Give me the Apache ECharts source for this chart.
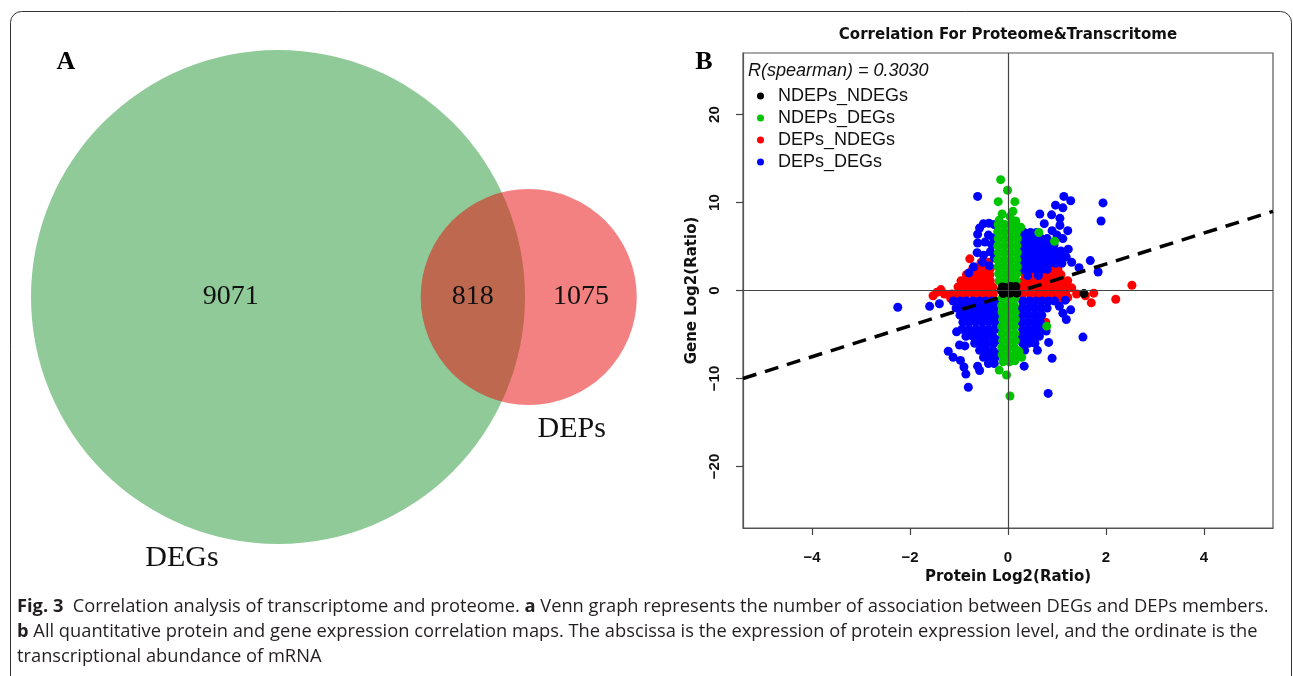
<!DOCTYPE html>
<html>
<head>
<meta charset="utf-8">
<script src="https://cdn.jsdelivr.net/npm/echarts@6/dist/echarts.min.js"></script>
<style>
html, body { margin: 0; padding: 0; background: #fff; }
#chart { width: 1293px; height: 676px; }
</style>
</head>
<body>
<div id="chart"></div>
<script>
// panel A: venn counts
const vennNames = ['DEGs', 'DEPs'];
const vennOnly = [9071, 1075];
const vennBoth = 818;

// panel B: scatter
const xTicks = [-4, -2, 0, 2, 4];
const yTicks = [-20, -10, 0, 10, 20];
const xLim = [-5.41, 5.41];
const yLim = [-27, 27];
const spearman = '0.3030';
const fitSlope = 1.756;
const fitIntercept = -0.5;

const blackPts = [[-0.14,0.05],[-0.06,0.35],[0.04,-0.3],[0.14,0.2],[0.0,-0.05],[0.1,-0.15],[-0.1,-0.35],
  [0.18,-0.3],[-0.12,0.4],[0.06,0.45],[-0.02,0.2],[0.16,0.45],[1.55,-0.35]];

const greenPts = [[-0.15,12.6],[-0.01,11.4],[-0.2,10.1],[0.14,10.1],[0.1,9.0],[-0.12,8.7],[0.04,8.4],[-0.18,8.0],[0.16,7.9],
  [-0.2,7.5],[-0.07,7.5],[0.06,7.5],[0.17,7.4],
  [-0.21,6.7],[-0.08,6.7],[0.05,6.7],[0.18,6.7],
  [-0.2,5.9],[-0.07,5.9],[0.06,5.9],[0.19,5.9],
  [-0.21,5.1],[-0.08,5.1],[0.05,5.1],[0.18,5.1],
  [-0.2,4.3],[-0.07,4.3],[0.06,4.3],[0.19,4.3],
  [-0.21,3.5],[-0.08,3.5],[0.05,3.5],[0.18,3.5],
  [-0.2,2.7],[-0.07,2.7],[0.06,2.7],[0.19,2.7],
  [-0.19,1.9],[-0.06,1.9],[0.06,1.9],[0.18,1.9],
  [-0.18,1.1],[-0.06,1.1],[0.06,1.1],[0.17,1.1],
  [0.63,6.6],[0.95,5.6],[0.26,7.2],
  [-0.12,-0.9],[0.01,-0.9],[0.14,-0.9],
  [-0.13,-1.7],[0.0,-1.7],[0.13,-1.7],
  [-0.12,-2.5],[0.01,-2.5],[0.14,-2.5],
  [-0.11,-3.3],[0.02,-3.3],[0.15,-3.3],
  [-0.13,-4.1],[0.0,-4.1],[0.13,-4.1],
  [-0.12,-4.9],[0.01,-4.9],[0.14,-4.9],
  [-0.11,-5.7],[0.02,-5.7],[0.15,-5.7],
  [-0.13,-6.5],[0.0,-6.5],[0.13,-6.5],
  [-0.12,-7.3],[0.01,-7.3],[0.14,-7.3],
  [-0.1,-8.1],[0.03,-8.1],[0.14,-8.0],
  [-0.18,-9.05],[-0.03,-9.6],[0.04,-12.0],[0.79,-4.05],[0.28,-7.6],[0.22,-6.9]];

const redPts = [[-1.53,-0.6],[-1.37,0.1],[-1.17,-0.9],[-1.45,-0.2],
  [1.58,-0.6],[1.7,-1.4],[1.75,-0.3],[2.2,-1.0],[2.53,0.6],[1.3,0.3],[1.4,-0.4],[1.22,-0.8],
  [-0.78,3.6],[0.77,-3.6],[0.55,-3.9],
  [-1.02,0.4],[-0.9,0.4],[-0.78,0.4],[-0.66,0.4],[-0.54,0.4],[-0.42,0.4],[-0.31,0.4],
  [-0.96,1.1],[-0.84,1.1],[-0.72,1.1],[-0.6,1.1],[-0.48,1.1],[-0.36,1.1],
  [-0.85,1.8],[-0.73,1.8],[-0.61,1.8],[-0.49,1.8],[-0.37,1.8],
  [-0.72,2.5],[-0.6,2.5],[-0.48,2.5],[-0.36,2.5],
  [-0.55,3.2],[-0.4,3.2],
  [0.3,0.4],[0.43,0.4],[0.56,0.4],[0.69,0.4],[0.82,0.4],[0.95,0.4],[1.08,0.4],[1.2,0.4],
  [0.32,1.1],[0.45,1.1],[0.58,1.1],[0.71,1.1],[0.84,1.1],[0.97,1.1],[1.1,1.1],[1.22,1.1],
  [0.35,1.8],[0.5,1.8],[0.65,1.8],[0.8,1.8],[0.95,1.8],[1.08,1.8],
  [0.9,2.4],[1.02,2.4],
  [-1.3,-0.4],[-1.15,-0.4],[-1.0,-0.4],[-0.85,-0.4],[-0.7,-0.4],[-0.55,-0.4],[-0.42,-0.4],[-0.3,-0.4],
  [0.3,-0.4],[0.45,-0.4],[0.6,-0.4],[0.75,-0.4],[0.9,-0.4],[1.05,-0.4],[1.18,-0.4],
  [-1.05,-0.9],[-0.9,-0.9],[1.0,-0.9],[1.12,-0.9]];

const bluePts = [[0.33,6.6],[0.46,6.6],[0.58,6.6],
  [0.3,5.9],[0.42,5.9],[0.55,5.9],[0.68,5.9],[0.8,5.9],
  [0.29,5.2],[0.42,5.2],[0.55,5.2],[0.68,5.2],[0.81,5.2],[0.94,5.2],
  [0.31,4.5],[0.44,4.5],[0.57,4.5],[0.7,4.5],[0.83,4.5],[0.96,4.5],[1.08,4.5],
  [0.3,3.8],[0.43,3.8],[0.56,3.8],[0.69,3.8],[0.82,3.8],[0.95,3.8],[1.08,3.8],[1.19,3.8],
  [0.32,3.1],[0.45,3.1],[0.58,3.1],[0.71,3.1],[0.84,3.1],[0.97,3.1],[1.1,3.1],
  [0.3,2.4],[0.43,2.4],[0.56,2.4],[0.69,2.4],[0.8,2.4],
  [0.4,1.7],[0.62,1.7],
  [1.14,10.7],[1.28,10.2],[0.97,9.7],[1.12,9.4],[0.65,8.7],[0.89,8.6],[1.06,8.2],[0.74,7.6],[1.06,7.4],
  [1.22,6.8],[1.12,5.9],[1.23,4.7],[1.68,3.4],[1.84,2.1],[1.94,9.96],[1.9,7.9],[0.9,6.8],[1.0,6.3],[1.45,2.6],[1.3,3.2],
  [-0.62,10.7],[-0.5,7.6],[-0.39,7.65],[-0.28,7.5],[-0.58,7.1],[-0.62,5.4],[-0.47,5.5],[-0.33,5.2],
  [-0.63,4.3],[-0.5,4.0],[-0.36,4.4],[-0.28,3.7],[-0.7,2.7],[-0.8,2.0],[-0.52,3.2],[-0.38,2.8],
  [-0.62,6.4],[-0.4,6.3],[-0.3,6.0],
  [-1.12,-1.2],[-0.98,-1.2],[-0.85,-1.2],[-0.72,-1.2],[-0.59,-1.2],[-0.46,-1.2],[-0.33,-1.2],[-0.22,-1.3],
  [-1.06,-2.0],[-0.93,-2.0],[-0.8,-2.0],[-0.67,-2.0],[-0.54,-2.0],[-0.41,-2.0],[-0.28,-2.0],
  [-0.98,-2.8],[-0.85,-2.8],[-0.72,-2.8],[-0.59,-2.8],[-0.46,-2.8],[-0.34,-2.8],[-0.23,-2.8],
  [-0.92,-3.6],[-0.79,-3.6],[-0.66,-3.6],[-0.53,-3.6],[-0.4,-3.6],[-0.27,-3.6],
  [-0.94,-4.4],[-0.8,-4.4],[-0.66,-4.4],[-0.52,-4.4],[-0.39,-4.4],[-0.26,-4.4],
  [-0.86,-5.2],[-0.72,-5.2],[-0.58,-5.2],[-0.45,-5.2],[-0.31,-5.2],[-0.22,-5.6],
  [-0.68,-6.0],[-0.55,-6.0],[-0.42,-6.0],[-0.29,-6.0],
  [-0.58,-6.8],[-0.45,-6.8],[-0.31,-6.8],[-0.22,-7.2],
  [-0.5,-7.6],[-0.37,-7.6],[-0.26,-7.6],
  [-0.4,-8.3],[-0.28,-8.3],
  [-2.25,-1.9],[-1.6,-1.8],[-1.4,-1.5],[-1.22,-6.9],[-1.12,-7.6],[-0.99,-6.2],[-0.97,-7.95],[-0.9,-8.7],
  [-0.86,-9.5],[-0.81,-11.0],[-0.62,-8.6],[-0.58,-9.1],[-0.88,-6.3],[-1.05,-4.7],
  [0.3,-1.2],[0.43,-1.2],[0.56,-1.2],[0.69,-1.2],[0.82,-1.2],[0.95,-1.2],
  [0.28,-2.0],[0.41,-2.0],[0.54,-2.0],[0.67,-2.0],[0.8,-2.0],
  [0.3,-2.8],[0.43,-2.8],[0.56,-2.8],[0.69,-2.8],
  [0.28,-3.6],[0.41,-3.6],[0.54,-3.6],[0.66,-3.6],
  [0.3,-4.4],[0.43,-4.4],[0.56,-4.4],[0.68,-4.4],
  [0.28,-5.2],[0.4,-5.2],[0.52,-5.2],[0.64,-5.2],
  [0.3,-6.0],[0.42,-6.0],[0.55,-6.0],
  [0.34,-6.8],[0.6,-6.8],
  [1.17,-1.1],[1.28,-2.2],[1.12,-2.6],[1.19,-3.3],[1.53,-5.3],[0.83,-5.9],[0.9,-7.7],[0.33,-8.6],
  [0.82,-11.7],[0.78,-4.6],[1.05,-1.8]];

const legendNames = ['NDEPs_NDEGs', 'NDEPs_DEGs', 'DEPs_NDEGs', 'DEPs_DEGs'];

// area-proportional venn: radius from set size, distance from overlap area
const tot1 = vennOnly[0] + vennBoth;
const tot2 = vennOnly[1] + vennBoth;
const r1 = Math.sqrt(tot1 / Math.PI);
const r2 = Math.sqrt(tot2 / Math.PI);
function lensArea(d) {
  const a = r1 * r1 * Math.acos((d * d + r1 * r1 - r2 * r2) / (2 * d * r1));
  const b = r2 * r2 * Math.acos((d * d + r2 * r2 - r1 * r1) / (2 * d * r2));
  const c = 0.5 * Math.sqrt((-d + r1 + r2) * (d + r1 - r2) * (d - r1 + r2) * (d + r1 + r2));
  return a + b - c;
}
let lo = r1 - r2 + 1e-6, hi = r1 + r2 - 1e-6;
for (let i = 0; i < 80; i++) {
  const mid = (lo + hi) / 2;
  if (lensArea(mid) > vennBoth) lo = mid; else hi = mid;
}
const dist = (lo + hi) / 2;

const serif = '"Liberation Serif", "DejaVu Serif", serif';
const sans = '"Liberation Sans", Arial, sans-serif';
const wide = '"DejaVu Sans", "Liberation Sans", sans-serif';
const capFont = '"Open Sans", "Noto Sans", sans-serif';
const capSize = 18.3;

function vennText(x, y, t, size) {
  return {
    type: 'text', x: x, y: y,
    style: { text: t, fontSize: size, fontFamily: serif, fill: '#111', align: 'center', verticalAlign: 'middle' }
  };
}

function renderVenn(params, api) {
  const c1 = api.coord([0, 0]);
  const c2 = api.coord([dist, 0]);
  const s = api.size([1, 0])[0];
  const R1 = r1 * s, R2 = r2 * s;
  return {
    type: 'group',
    children: [
      { type: 'circle', shape: { cx: c1[0], cy: c1[1], r: R1 }, style: { fill: '#8fca98' } },
      { type: 'circle', shape: { cx: c2[0], cy: c2[1], r: R2 }, style: { fill: 'rgba(234,14,14,0.52)' } },
      vennText((c1[0] - R1 + c2[0] - R2) / 2 + 5, c1[1], String(vennOnly[0]), 28),
      vennText((c2[0] - R2 + c1[0] + R1) / 2, c1[1], String(vennBoth), 28),
      vennText((c1[0] + R1 + c2[0] + R2) / 2, c1[1], String(vennOnly[1]), 28),
      vennText(c1[0] - 96, c1[1] + 261, vennNames[0], 30),
      vennText(c2[0] + 43, c2[1] + 132, vennNames[1], 30)
    ]
  };
}

const minus = v => String(v).replace('-', '\u2212');

const myChart = echarts.init(document.getElementById('chart'));
const vennW = 620, vennH = 494;

const option = {
  animation: false,
  backgroundColor: '#fff',
  grid: [
    { left: 31, top: 50, width: vennW, height: vennH, show: false },
    { left: 743, top: 53, width: 530, height: 475, show: true, borderColor: '#555', borderWidth: 1.2, backgroundColor: 'transparent' }
  ],
  xAxis: [
    { gridIndex: 0, type: 'value', show: false, min: -r1, max: -r1 + 2 * r1 * vennW / vennH },
    {
      gridIndex: 1, type: 'value', min: xLim[0], max: xLim[1], position: 'bottom',
      axisLine: { show: true, onZero: false, lineStyle: { color: '#555', width: 1.2 } },
      axisTick: { show: true, length: 7, customValues: xTicks, lineStyle: { color: '#444', width: 1.2 } },
      axisLabel: { customValues: xTicks, formatter: minus, margin: 22, color: '#111', fontFamily: sans, fontWeight: 'bold', fontSize: 15 },
      splitLine: { show: false },
      name: 'Protein Log2(Ratio)', nameLocation: 'middle', nameGap: 40,
      nameTextStyle: { color: '#111', fontFamily: wide, fontWeight: 'bold', fontSize: 15 }
    }
  ],
  yAxis: [
    { gridIndex: 0, type: 'value', show: false, min: -r1, max: r1 },
    {
      gridIndex: 1, type: 'value', min: yLim[0], max: yLim[1], position: 'left',
      axisLine: { show: true, onZero: false, lineStyle: { color: '#555', width: 1.2 } },
      axisTick: { show: true, length: 7, customValues: yTicks, lineStyle: { color: '#444', width: 1.2 } },
      axisLabel: { customValues: yTicks, formatter: minus, rotate: 90, margin: 21, color: '#111', fontFamily: sans, fontWeight: 'bold', fontSize: 15 },
      splitLine: { show: false },
      name: 'Gene Log2(Ratio)', nameLocation: 'middle', nameGap: 43,
      nameTextStyle: { color: '#111', fontFamily: wide, fontWeight: 'bold', fontSize: 15 }
    }
  ],
  legend: {
    data: legendNames, orient: 'vertical', left: 757, top: 85, padding: 0,
    icon: 'circle', itemWidth: 7, itemHeight: 7, itemGap: 0, selectedMode: false,
    textStyle: { color: '#111', fontFamily: sans, fontSize: 18, lineHeight: 22, padding: [0, 0, 0, 9] }
  },
  graphic: [
    { type: 'rect', shape: { x: 10.5, y: 11.5, width: 1281, height: 720, r: 11 }, style: { fill: 'none', stroke: '#333', lineWidth: 1 }, silent: true },
    { type: 'text', x: 66, y: 62, style: { text: 'A', fontSize: 26, fontWeight: 'bold', fontFamily: serif, fill: '#000', align: 'center', verticalAlign: 'middle' } },
    { type: 'text', x: 704, y: 62, style: { text: 'B', fontSize: 26, fontWeight: 'bold', fontFamily: serif, fill: '#000', align: 'center', verticalAlign: 'middle' } },
    { type: 'text', x: 1008, y: 35, style: { text: 'Correlation For Proteome&Transcritome', fontSize: 15, fontWeight: 'bold', fontFamily: wide, fill: '#111', align: 'center', verticalAlign: 'middle' } },
    { type: 'text', x: 748, y: 71, style: { text: 'R(spearman) = ' + spearman, fontSize: 18, fontStyle: 'italic', fontFamily: sans, fill: '#111', align: 'left', verticalAlign: 'middle' } },
    {
      type: 'text', x: 17, y: 607,
      style: {
        text: '{b|Fig. 3}  Correlation analysis of transcriptome and proteome. {b|a} Venn graph represents the number of association between DEGs and DEPs members.',
        fontSize: capSize, fontFamily: capFont, fill: '#231f20', verticalAlign: 'middle',
        rich: { b: { fontWeight: 'bold', fontSize: capSize, fontFamily: capFont, fill: '#231f20' } }
      }
    },
    {
      type: 'text', x: 17, y: 632,
      style: {
        text: '{b|b} All quantitative protein and gene expression correlation maps. The abscissa is the expression of protein expression level, and the ordinate is the',
        fontSize: capSize, fontFamily: capFont, fill: '#231f20', verticalAlign: 'middle',
        rich: { b: { fontWeight: 'bold', fontSize: capSize, fontFamily: capFont, fill: '#231f20' } }
      }
    },
    {
      type: 'text', x: 17, y: 657,
      style: { text: 'transcriptional abundance of mRNA', fontSize: capSize, fontFamily: capFont, fill: '#231f20', verticalAlign: 'middle' }
    }
  ],
  series: [
    { type: 'custom', xAxisIndex: 0, yAxisIndex: 0, renderItem: renderVenn, data: [[0, 0]], clip: false, silent: true, z: 1 },
    { name: 'DEPs_NDEGs', type: 'scatter', xAxisIndex: 1, yAxisIndex: 1, symbolSize: 9, itemStyle: { color: '#ff0000', opacity: 1 }, data: redPts, z: 2 },
    { name: 'DEPs_DEGs', type: 'scatter', xAxisIndex: 1, yAxisIndex: 1, symbolSize: 9, itemStyle: { color: '#0000ff', opacity: 1 }, data: bluePts, z: 2 },
    { name: 'NDEPs_DEGs', type: 'scatter', xAxisIndex: 1, yAxisIndex: 1, symbolSize: 9, itemStyle: { color: '#00c400', opacity: 1 }, data: greenPts, z: 2 },
    { name: 'NDEPs_NDEGs', type: 'scatter', xAxisIndex: 1, yAxisIndex: 1, symbolSize: 9, itemStyle: { color: '#000000', opacity: 1 }, data: blackPts, z: 2 },
    {
      name: 'fit', type: 'line', xAxisIndex: 1, yAxisIndex: 1, z: 3, silent: true, showSymbol: false,
      data: xLim.map(x => [x, fitIntercept + fitSlope * x]),
      lineStyle: { color: '#000', width: 3.5, type: [14, 9] },
      markLine: {
        silent: true, symbol: 'none', label: { show: false },
        lineStyle: { color: '#444', width: 1.2, type: 'solid' },
        data: [{ xAxis: 0 }, { yAxis: 0 }]
      }
    }
  ]
};

myChart.setOption(option);
</script>
</body>
</html>
